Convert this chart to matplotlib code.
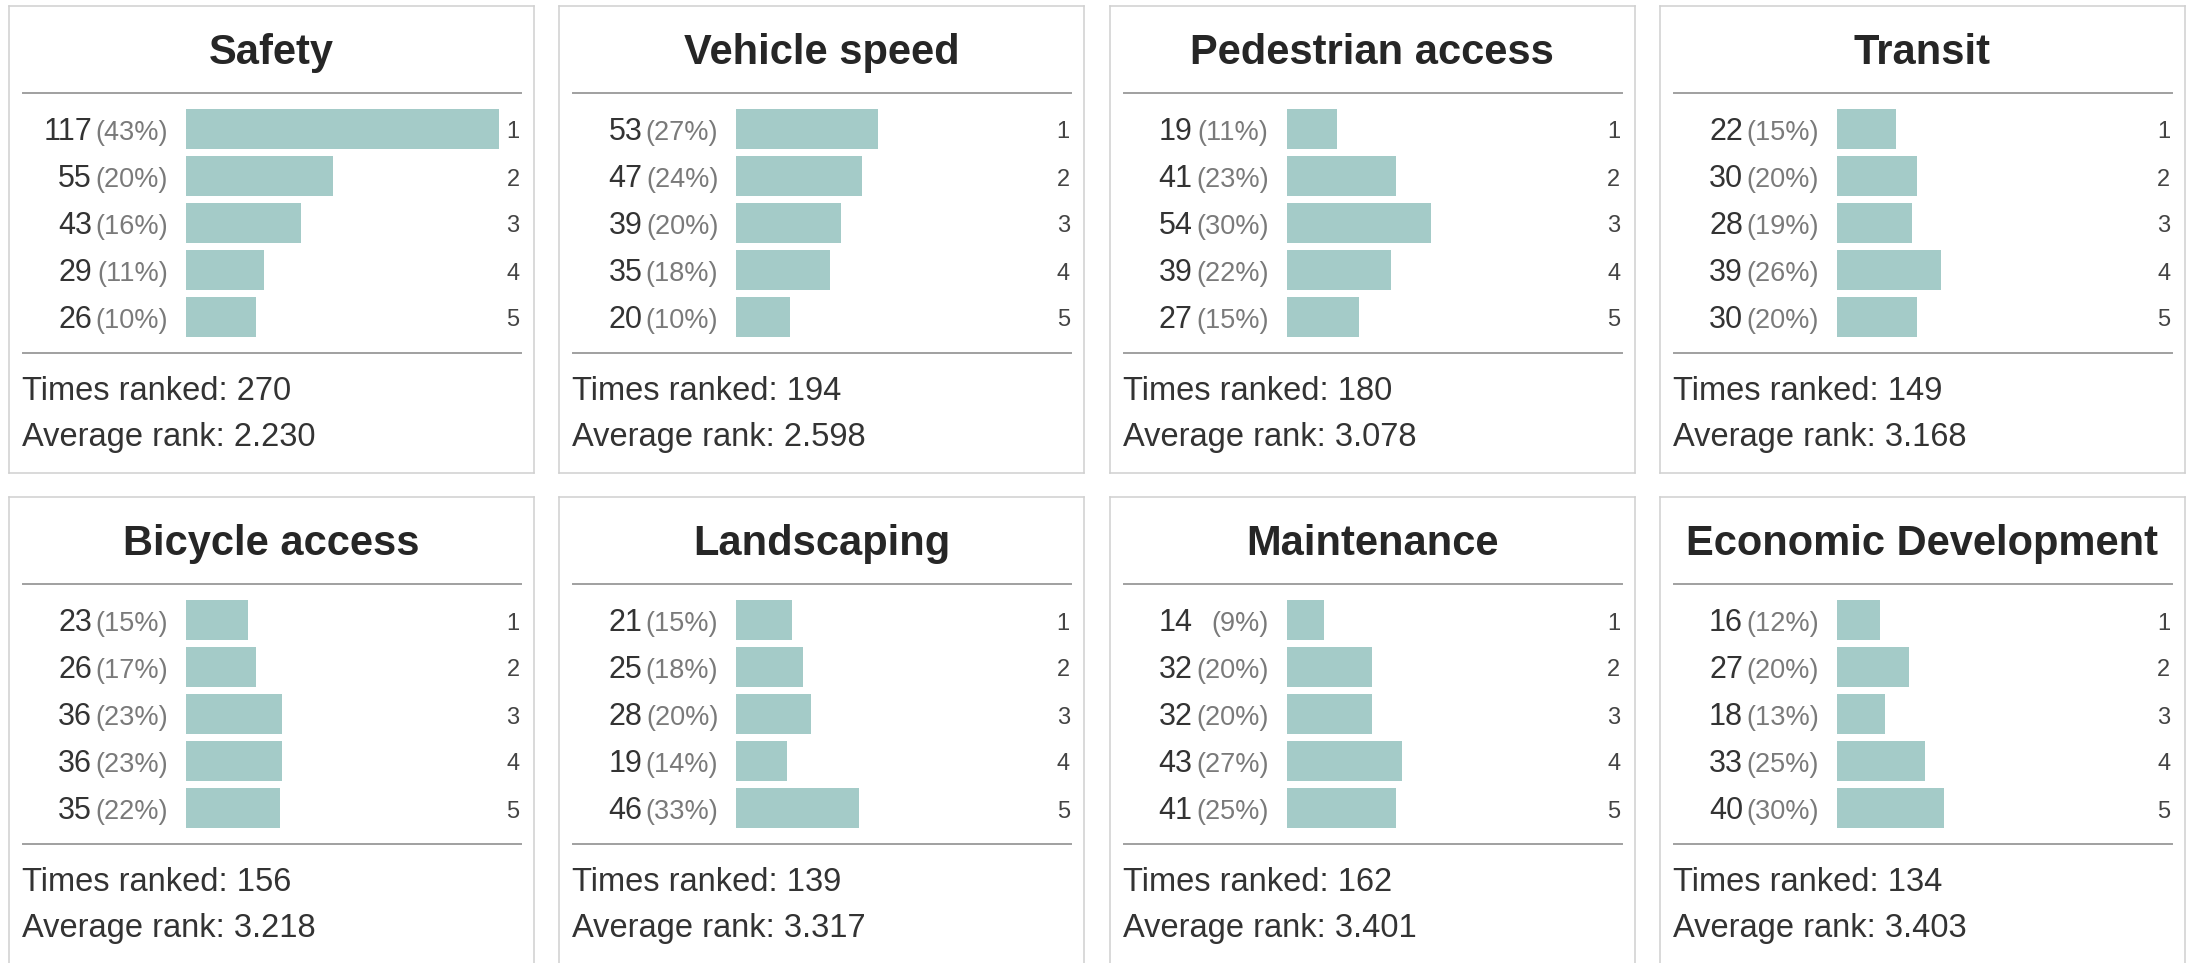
import matplotlib
matplotlib.use("Agg")
import matplotlib.pyplot as plt
import matplotlib.transforms as mtransforms

plt.rcParams["font.family"] = ["Liberation Sans", "DejaVu Sans"]

# ---------- data -----------------------------------------------------------
CATEGORIES = ["Safety", "Vehicle speed", "Pedestrian access", "Transit",
              "Bicycle access", "Landscaping", "Maintenance", "Economic Development"]
RANKS = [1, 2, 3, 4, 5]
COUNTS = [
    [117, 55, 43, 29, 26],
    [53, 47, 39, 35, 20],
    [19, 41, 54, 39, 27],
    [22, 30, 28, 39, 30],
    [23, 26, 36, 36, 35],
    [21, 25, 28, 19, 46],
    [14, 32, 32, 43, 41],
    [16, 27, 18, 33, 40],
]
PERCENTS = [
    [43, 20, 16, 11, 10],
    [27, 24, 20, 18, 10],
    [11, 23, 30, 22, 15],
    [15, 20, 19, 26, 20],
    [15, 17, 23, 23, 22],
    [15, 18, 20, 14, 33],
    [9, 20, 20, 27, 25],
    [12, 20, 13, 25, 30],
]
TIMES_RANKED = [270, 194, 180, 149, 156, 139, 162, 134]
AVG_RANK = [2.230, 2.598, 3.078, 3.168, 3.218, 3.317, 3.401, 3.403]

# ---------- layout (figure pixels, y from top) -----------------------------
W, H = 2201, 963
PANEL_W, PANEL_H = 525, 467
COL_PITCH, ROW_PITCH = 550.3, 491
LEFT0, TOP0 = 9, 6
BAR_X0, BAR_X1 = 177, 490          # bar area inside a panel
BAR_TOP, ROW_STEP = 99.5, 47       # first bar slot top, slot height
X_MAX = max(max(c) for c in COUNTS)

BAR_COLOR = "#a4cbc8"
BORDER_COLOR = "#d0d0d0"
RULE_COLOR = "#a0a0a0"
TEXT_COLOR = "#333333"


def px_rect(x, y, w, h):
    return [x / W, 1 - (y + h) / H, w / W, h / H]


fig = plt.figure(figsize=(W / 100, H / 100), dpi=100)
fig.patch.set_facecolor("white")

for i, name in enumerate(CATEGORIES):
    row, col = divmod(i, 4)
    left = LEFT0 + col * COL_PITCH
    top = TOP0 + row * ROW_PITCH
    ph = PANEL_H if row == 0 else H - top + 5

    panel = fig.add_axes(px_rect(left, top, PANEL_W, ph))
    panel.set_xlim(0, PANEL_W)
    panel.set_ylim(ph, 0)
    panel.set_xticks([])
    panel.set_yticks([])
    for sp in panel.spines.values():
        sp.set_color(BORDER_COLOR)
        sp.set_linewidth(1.1)

    panel.text(PANEL_W / 2, 58, name, ha="center", va="baseline",
               fontsize=30, fontweight="bold", color="#262626")
    panel.plot([14, 512], [87, 87], color=RULE_COLOR, lw=1.4)
    panel.plot([14, 512], [347, 347], color=RULE_COLOR, lw=1.4)
    panel.text(13, 394, f"Times ranked: {TIMES_RANKED[i]}", ha="left",
               va="baseline", fontsize=23.5, color=TEXT_COLOR)
    panel.text(13, 440, f"Average rank: {AVG_RANK[i]:.3f}", ha="left",
               va="baseline", fontsize=23.5, color=TEXT_COLOR)

    bars = fig.add_axes(px_rect(left + BAR_X0, top + BAR_TOP,
                                BAR_X1 - BAR_X0, ROW_STEP * len(RANKS)))
    bars.patch.set_visible(False)
    bars.barh(RANKS, COUNTS[i], height=0.85, color=BAR_COLOR)
    bars.set_xlim(0, X_MAX)
    bars.set_ylim(len(RANKS) + 0.5, 0.5)
    bars.axis("off")

    # x in panel pixels, y in rank units, shifted so digits sit centred on the bar
    mixed = mtransforms.blended_transform_factory(panel.transData, bars.transData)
    num_tr = mixed + mtransforms.ScaledTranslation(0, -0.11, fig.dpi_scale_trans)
    rank_tr = mixed + mtransforms.ScaledTranslation(0, -0.095, fig.dpi_scale_trans)
    for r, c, p in zip(RANKS, COUNTS[i], PERCENTS[i]):
        panel.text(83, r, str(c), transform=num_tr, ha="right", va="baseline",
                   fontsize=22, color=TEXT_COLOR)
        panel.text(159, r, f"({p}%)", transform=num_tr, ha="right",
                   va="baseline", fontsize=19.5, color="#7a7a7a")
        panel.text(504, r, str(r), transform=rank_tr, ha="center",
                   va="baseline", fontsize=17, color="#444444")

fig.savefig("out.png", dpi=100, facecolor="white")
